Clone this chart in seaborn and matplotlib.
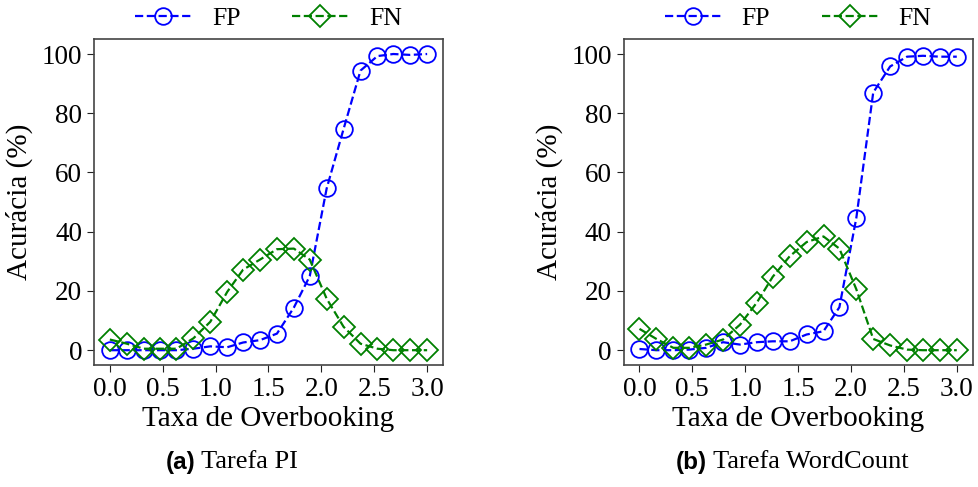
import numpy as np
import pandas as pd
import matplotlib
matplotlib.use("Agg")
import matplotlib.pyplot as plt
import seaborn as sns

taxa = [0.0, 0.16, 0.32, 0.47, 0.63, 0.79, 0.95, 1.11, 1.26, 1.42,
        1.58, 1.74, 1.89, 2.05, 2.21, 2.37, 2.53, 2.68, 2.84, 3.0]

fp_pi = [0.0, 0.0, 0.0, 0.0, 0.0, 0.5, 1.3, 1.0, 2.6, 3.4,
         5.6, 14.4, 25.0, 54.6, 74.7, 94.4, 99.3, 100.0, 99.7, 100.0]
fn_pi = [3.6, 2.2, 0.5, 0.5, 0.5, 4.0, 9.6, 19.7, 27.2, 30.6,
         34.1, 34.3, 30.6, 17.4, 7.9, 2.2, 0.5, 0.0, 0.0, 0.0]

fp_wc = [0.4, 0.0, 0.0, 0.2, 0.8, 2.7, 1.9, 2.7, 3.0, 3.0,
         5.3, 6.4, 14.5, 44.6, 87.0, 95.8, 99.1, 99.4, 99.1, 99.1]
fn_wc = [7.2, 3.8, 0.8, 0.8, 1.9, 3.6, 8.6, 16.1, 24.8, 31.7,
         36.5, 38.4, 34.3, 20.6, 3.8, 1.6, 0.2, 0.0, 0.0, 0.0]

series_labels = ["FP", "FN"]
captions = [("(a)", "Tarefa PI"), ("(b)", "Tarefa WordCount")]
x_ticks = [0.0, 0.5, 1.0, 1.5, 2.0, 2.5, 3.0]
y_ticks = [0, 20, 40, 60, 80, 100]

sns.set_style("ticks")
serif = ["Liberation Serif", "DejaVu Serif"]
plt.rcParams["font.family"] = serif
plt.rcParams["text.color"] = "black"
plt.rcParams["axes.labelcolor"] = "black"

fig = plt.figure(figsize=(9.79, 4.87), dpi=100)
axes = [fig.add_axes([0.096, 0.2505, 0.3565, 0.669]),
        fig.add_axes([0.637, 0.2505, 0.3565, 0.669])]

datasets = [(fp_pi, fn_pi), (fp_wc, fn_wc)]
for ax, (fp, fn) in zip(axes, datasets):
    df = pd.DataFrame({"x": taxa, "FP": fp, "FN": fn})
    sns.lineplot(data=df, x="x", y="FP", ax=ax, color="blue", linestyle="--",
                 marker="o", markersize=12, markerfacecolor="none",
                 markeredgecolor="blue", markeredgewidth=1.3, linewidth=1.6,
                 label=series_labels[0])
    sns.lineplot(data=df, x="x", y="FN", ax=ax, color="green", linestyle="--",
                 marker="D", markersize=11, markerfacecolor="none",
                 markeredgecolor="green", markeredgewidth=1.3, linewidth=1.6,
                 label=series_labels[1])
    ax.set_xlim(-0.15, 3.15)
    ax.set_ylim(-5, 105)
    ax.set_xticks(x_ticks)
    ax.set_xticklabels([f"{t:.1f}" for t in x_ticks])
    ax.set_yticks(y_ticks)
    ax.tick_params(labelsize=19.5, colors="#222222", labelcolor="black", length=5)
    for s in ax.spines.values():
        s.set_color("#444444")
        s.set_linewidth(1.2)
    ax.set_xlabel("Taxa de Overbooking", fontsize=21, labelpad=3)
    ax.set_ylabel("Acurácia (%)", fontsize=21, labelpad=6)
    ax.legend(loc="lower center", bbox_to_anchor=(0.5, 0.99), ncol=2,
              frameon=False, fontsize=18.5, handlelength=2.2, columnspacing=2.0,
              borderaxespad=0.1)

fig.canvas.draw()
renderer = fig.canvas.get_renderer()
centers = [232 / 979, 792 / 979]
ycap = 1 - 462 / 487
for (bold, rest), cx in zip(captions, centers):
    t1 = fig.text(0, ycap, bold, fontsize=17.5, fontweight="bold",
                  family=["Liberation Sans", "DejaVu Sans"], va="center", ha="left")
    t2 = fig.text(0, ycap, " " + rest, fontsize=19, family=serif,
                  va="center", ha="left")
    w1 = t1.get_window_extent(renderer).width / fig.bbox.width
    w2 = t2.get_window_extent(renderer).width / fig.bbox.width
    x0 = cx - (w1 + w2) / 2
    t1.set_x(x0)
    t2.set_x(x0 + w1)

fig.savefig("out.png", dpi=100)
